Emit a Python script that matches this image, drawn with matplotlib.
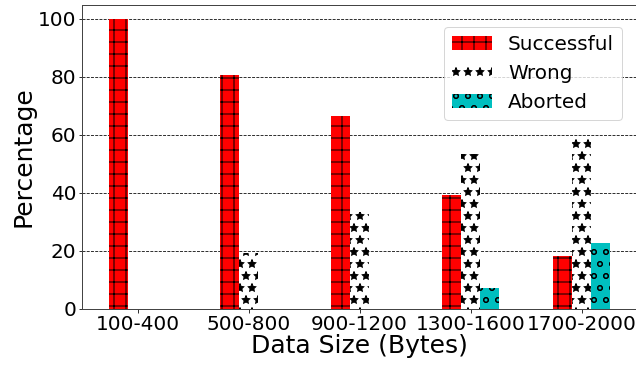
import numpy as np
import matplotlib
matplotlib.use("Agg")
import matplotlib.pyplot as plt

categories = ["100-400", "500-800", "900-1200", "1300-1600", "1700-2000"]
successful = [100.0, 80.7, 66.6, 39.3, 18.3]
wrong = [0.0, 19.3, 33.4, 53.6, 59.1]
aborted = [0.0, 0.0, 0.0, 7.1, 22.6]

fig = plt.figure(figsize=(636 / 72, 365 / 72), dpi=72)
ax = fig.add_axes([82 / 636, 56 / 365, 555 / 636, 304 / 365])

x = np.arange(len(categories))
w = 0.17
ax.bar(x - w, successful, w, color="#ff0000", edgecolor="black", linewidth=0,
       hatch="+", label="Successful", zorder=2)
ax.bar(x, wrong, w, color="white", edgecolor="black", linewidth=0,
       hatch="*", label="Wrong", zorder=2)
ax.bar(x + w, aborted, w, color="#00bfbf", edgecolor="black", linewidth=0,
       hatch="o", label="Aborted", zorder=2)

ax.set_xlim(-0.5, 4.5)
ax.set_ylim(0, 104.8)
ax.set_xticks(x)
ax.set_xticklabels(categories, fontsize=20)
ax.set_yticks([0, 20, 40, 60, 80, 100])
ax.tick_params(axis="y", labelsize=20)
ax.tick_params(axis="both", pad=2)
ax.set_xlabel("Data Size (Bytes)", fontsize=25, labelpad=0)
ax.set_ylabel("Percentage", fontsize=25, labelpad=2)
ax.set_axisbelow(True)
ax.yaxis.grid(True, linestyle="--", color="black", linewidth=0.8)
for s in ax.spines.values():
    s.set_color("#444444")
    s.set_linewidth(1.0)

ax.legend(fontsize=20, loc="upper right", bbox_to_anchor=(0.973, 0.9276),
          borderaxespad=0)

fig.savefig("out.png", dpi=72)
